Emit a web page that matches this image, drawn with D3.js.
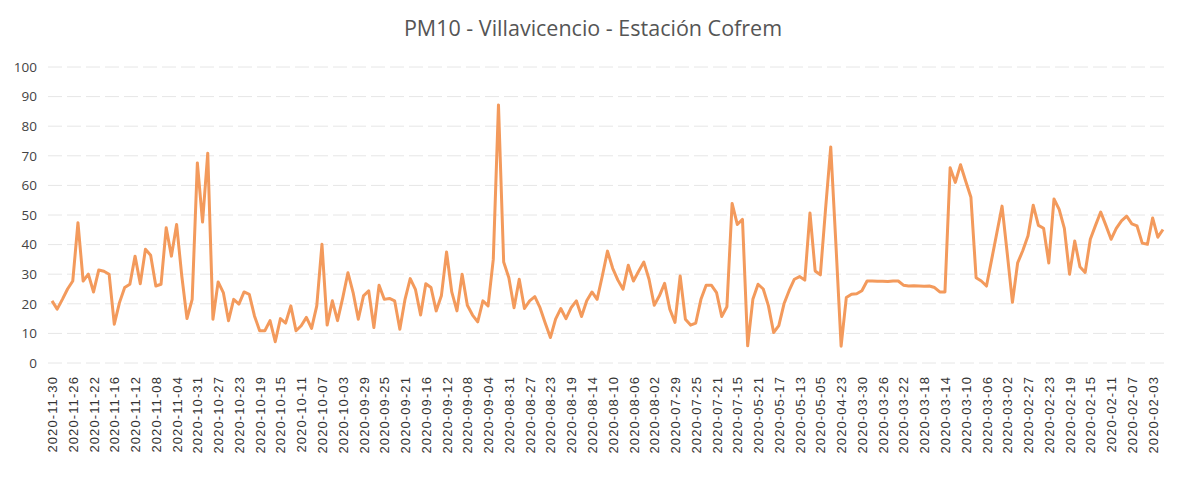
<!DOCTYPE html>
<html>
<head>
<meta charset="utf-8">
<script src="https://cdn.jsdelivr.net/npm/d3@7/dist/d3.min.js"></script>
<style>
  body { margin: 0; background: #fff; }
  svg { display: block; }
</style>
</head>
<body>
<svg id="chart"></svg>
<script>
// PM10 daily values, one per category, newest first
const pm10 = [
  21, 18.2, 21.5, 25, 27.7, 47.4, 27.7, 30, 24, 31.4,
  31, 30, 13.1, 20.4, 25.5, 26.6, 36.1, 26.8, 38.4, 36.4,
  26, 26.6, 45.7, 36.1, 46.8, 29.4, 15, 21.5, 67.6, 47.6,
  70.9, 14.8, 27.4, 23.8, 14.3, 21.5, 19.9, 24, 23.2, 15.9,
  10.9, 10.9, 14.3, 7.2, 15, 13.5, 19.3, 10.9, 12.6, 15.4,
  11.7, 19.3, 40.1, 12.8, 21, 14.3, 22, 30.5, 23.8, 14.8,
  22.7, 24.4, 12, 26.3, 21.5, 21.8, 21, 11.4, 21.5, 28.5,
  24.9, 16.2, 26.8, 25.5, 17.6, 22.7, 37.5, 24, 17.6, 30,
  19.5, 16.2, 13.9, 21, 19.3, 35, 87.2, 34.1, 28.8, 18.7,
  28.3, 18.4, 21, 22.4, 18.7, 13.5, 8.6, 14.8, 18.4, 15,
  18.7, 21, 15.7, 21, 24, 21.5, 29.4, 37.8, 32, 28,
  24.9, 33, 27.7, 31, 34.1, 28.3, 19.5, 22.7, 26.9, 18.2,
  13.7, 29.4, 14.8, 12.8, 13.5, 21.5, 26.3, 26.3, 23.8, 15.7,
  19, 53.9, 46.8, 48.5, 5.8, 21.5, 26.6, 25, 19.3, 10.3,
  12.6, 20, 24.5, 28.3, 29.2, 28, 50.7, 31.1, 29.8, 52,
  73, 40, 5.7, 22.1, 23.2, 23.4, 24.4, 27.7, 27.7, 27.6,
  27.6, 27.5, 27.7, 27.7, 26.3, 26, 26.1, 26, 25.9, 26,
  25.5, 24, 24, 66, 61, 67, 61.4, 56, 28.8, 27.7,
  26, 35, 44, 53, 37, 20.5, 33.8, 38, 43, 53.3,
  46.5, 45.5, 33.8, 55.4, 51.9, 45.5, 30, 41.2, 32.5, 30.6,
  41.8, 46.5, 51, 46.5, 41.8, 45.5, 48, 49.6, 47, 46.3,
  40.5, 40.1, 49, 42.5, 45.1
];

// every 4th category gets a label
const dateLabels = [
  '2020-11-30', '2020-11-26', '2020-11-22', '2020-11-16', '2020-11-12', '2020-11-08',
  '2020-11-04', '2020-10-31', '2020-10-27', '2020-10-23', '2020-10-19', '2020-10-15',
  '2020-10-11', '2020-10-07', '2020-10-03', '2020-09-29', '2020-09-25', '2020-09-21',
  '2020-09-16', '2020-09-12', '2020-09-08', '2020-09-04', '2020-08-31', '2020-08-27',
  '2020-08-23', '2020-08-19', '2020-08-14', '2020-08-10', '2020-08-06', '2020-08-02',
  '2020-07-29', '2020-07-25', '2020-07-21', '2020-07-15', '2020-05-21', '2020-05-17',
  '2020-05-13', '2020-05-05', '2020-04-23', '2020-03-30', '2020-03-26', '2020-03-22',
  '2020-03-18', '2020-03-14', '2020-03-10', '2020-03-06', '2020-03-02', '2020-02-27',
  '2020-02-23', '2020-02-19', '2020-02-15', '2020-02-11', '2020-02-07', '2020-02-03'
];
const labelStep = 4;
const yTicks = [0, 10, 20, 30, 40, 50, 60, 70, 80, 90, 100];
const title = 'PM10 - Villavicencio - Estación Cofrem';

const width = 1183;
const height = 486;

const svg = d3.select('#chart')
    .attr('width', width)
    .attr('height', height);

const xScale = d3.scalePoint()
    .domain(d3.range(pm10.length))
    .range([52, 1163]);

const yScale = d3.scaleLinear()
    .domain([0, 100])
    .range([363, 67]);

// Title
svg.append('text')
    .attr('x', 593)
    .attr('y', 36)
    .attr('text-anchor', 'middle')
    .style('font-family', 'Open Sans, sans-serif')
    .style('font-size', '21.5px')
    .style('fill', '#555')
    .text(title);

// Horizontal grid
svg.append('g')
    .selectAll('line')
    .data(yTicks)
    .join('line')
    .attr('x1', 48)
    .attr('x2', 1168)
    .attr('y1', d => yScale(d))
    .attr('y2', d => yScale(d))
    .attr('stroke', '#e6e6e6')
    .attr('stroke-width', 1)
    .attr('stroke-dasharray', '14,5');

// Y axis labels
const yAxis = d3.axisLeft(yScale).tickValues(yTicks).tickSize(0).tickPadding(0);
const yAxisG = svg.append('g')
    .attr('class', 'y-axis')
    .attr('transform', 'translate(37, 0)')
    .call(yAxis);
yAxisG.select('.domain').remove();
yAxisG.selectAll('text')
    .style('font-family', 'Open Sans, sans-serif')
    .style('font-size', '13.5px')
    .style('fill', '#444');

// X axis labels (rotated)
const xAxis = d3.axisBottom(xScale)
    .tickValues(dateLabels.map((_, i) => i * labelStep))
    .tickFormat(d => dateLabels[d / labelStep])
    .tickSize(0);
const xAxisG = svg.append('g')
    .attr('class', 'x-axis')
    .attr('transform', 'translate(0, 376)')
    .call(xAxis);
xAxisG.select('.domain').remove();
xAxisG.selectAll('text')
    .attr('transform', 'rotate(-90)')
    .attr('x', 0)
    .attr('y', 0)
    .attr('dy', '0.35em')
    .style('text-anchor', 'end')
    .style('font-family', 'Liberation Sans, sans-serif')
    .style('font-size', '13px')
    .style('letter-spacing', '1.1px')
    .style('fill', '#333');

// The line
const line = d3.line()
    .x((_, i) => xScale(i))
    .y(d => yScale(d));

svg.append('path')
    .datum(pm10)
    .attr('fill', 'none')
    .attr('stroke', '#f39a5c')
    .attr('stroke-width', 3)
    .attr('stroke-linejoin', 'round')
    .attr('d', line);
</script>
</body>
</html>
